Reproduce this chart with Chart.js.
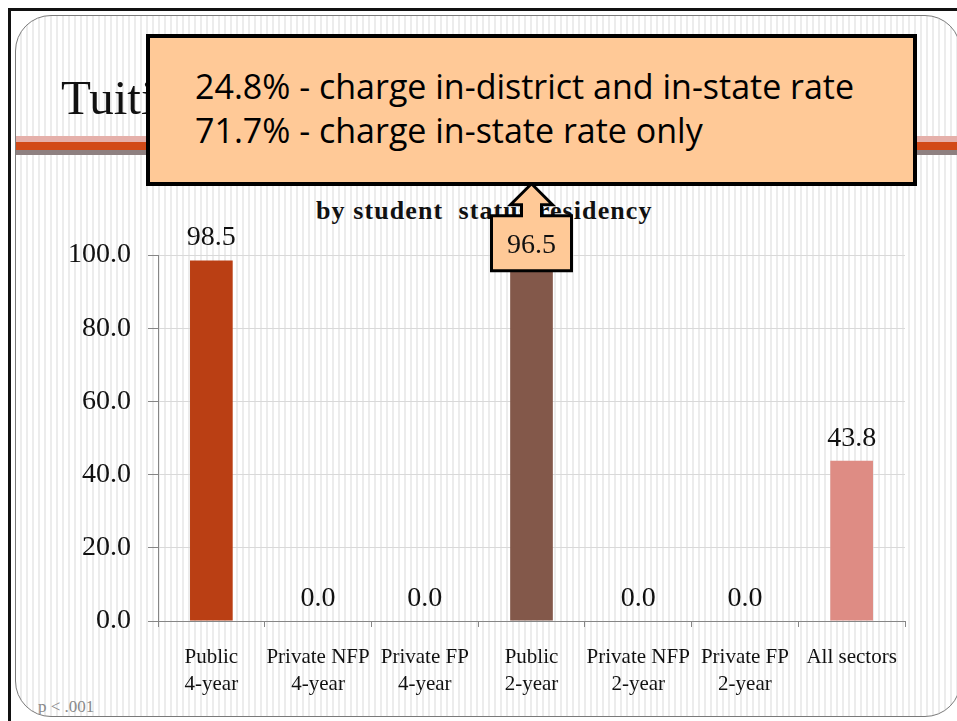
<!DOCTYPE html>
<html>
    <head>
        <title>Tuition</title>
        <meta charset="UTF-8">
        <style>
            body {
                margin: 0;
                width: 957px;
                height: 721px;
                overflow: hidden;
                background: #fff;
                position: relative;
                font-family: "Liberation Serif", serif;
            }
            #frame {
                position: absolute;
                left: 8px; top: 8px; width: 980px; height: 760px;
                border: 3px solid #111;
                box-sizing: border-box;
            }
            #slide {
                position: absolute;
                left: 15px; top: 15px; width: 946px; height: 702px;
                border: 1px solid #7a7a7a;
                border-radius: 36px;
                box-sizing: border-box;
                background: repeating-linear-gradient(90deg, #fff 0 4px, #ececec 4px 6px);
                overflow: hidden;
            }
            .band { position: absolute; left: 0; width: 100%; }
            #title {
                position: absolute; left: 45px; top: 53px;
                font-size: 49px; color: #111; white-space: nowrap;
            }
            #subtitle {
                position: absolute; left: 300px; top: 180px;
                font-size: 26px; font-weight: bold; color: #111; white-space: nowrap;
                letter-spacing: 1.1px;
            }
            #pval {
                position: absolute; left: 22px; top: 681px;
                font-size: 17px; color: #8a8a8a;
            }
            #chartBox {
                position: absolute; left: 0; top: 0; width: 957px; height: 721px;
            }
            #callout {
                position: absolute;
                left: 146px; top: 34px; width: 771px; height: 152px;
                box-sizing: border-box;
                border: 4px solid #000;
                background: #ffc997;
                font-family: "Open Sans", sans-serif;
                font-size: 34px;
                line-height: 44px;
                color: #000;
                padding: 26px 0 0 45px;
                white-space: nowrap;
            }
        </style>
    </head>
    <body>
        <div id="frame"></div>
        <div id="slide">
            <div class="band" style="top:120px;height:6px;background:#e5b0aa"></div>
            <div class="band" style="top:126px;height:8px;background:#d24a18"></div>
            <div class="band" style="top:134px;height:5px;background:#8e8080"></div>
            <div id="title">Tuition residency policy</div>
            <div id="subtitle">by student&nbsp; status residency</div>
            <div id="pval">p &lt; .001</div>
        </div>
        <div id="chartBox">
            <canvas id="myChart" width="957" height="721"></canvas>
        </div>
        <div id="callout">24.8% - charge in-district and in-state rate<br>71.7% - charge in-state rate only</div>

        <script src="https://cdn.jsdelivr.net/npm/chart.js@4.4.1/dist/chart.umd.min.js"></script>
        <script>
            var sectors = [["Public", "4-year"], ["Private NFP", "4-year"], ["Private FP", "4-year"],
                           ["Public", "2-year"], ["Private NFP", "2-year"], ["Private FP", "2-year"], ["All sectors"]];
            var percents = [98.5, 0.0, 0.0, 96.5, 0.0, 0.0, 43.8];
            var barColors = ["#ba3f14", "#ba3f14", "#ba3f14", "#83584a", "#83584a", "#83584a", "#de8c84"];
            var yTicks = [0, 20, 40, 60, 80, 100];
            var calloutIndex = 3;

            var serif = '"Liberation Serif", serif';

            // value labels over the bars, and the little arrow box on one of them
            var valueLabels = {
                id: 'valueLabels',
                afterDatasetsDraw: function (chart) {
                    var ctx = chart.ctx;
                    var meta = chart.getDatasetMeta(0);
                    ctx.save();
                    ctx.font = '28px ' + serif;
                    ctx.fillStyle = '#111';
                    ctx.textAlign = 'center';
                    ctx.textBaseline = 'alphabetic';
                    meta.data.forEach(function (bar, i) {
                        if (i === calloutIndex) {
                            return;
                        }
                        ctx.fillText(percents[i].toFixed(1), bar.x, bar.y - 15);
                    });

                    var b = meta.data[calloutIndex];
                    var x = b.x, bottom = b.y + 3, top = b.y - 52;
                    ctx.beginPath();
                    ctx.moveTo(x - 40, bottom);
                    ctx.lineTo(x + 40, bottom);
                    ctx.lineTo(x + 40, top);
                    ctx.lineTo(x + 10, top);
                    ctx.lineTo(x + 10, top - 11);
                    ctx.lineTo(x + 21, top - 11);
                    ctx.lineTo(x, top - 32);
                    ctx.lineTo(x - 21, top - 11);
                    ctx.lineTo(x - 10, top - 11);
                    ctx.lineTo(x - 10, top);
                    ctx.lineTo(x - 40, top);
                    ctx.closePath();
                    ctx.fillStyle = '#ffc997';
                    ctx.fill();
                    ctx.lineWidth = 3;
                    ctx.strokeStyle = '#000';
                    ctx.lineJoin = 'miter';
                    ctx.stroke();
                    ctx.fillStyle = '#111';
                    ctx.fillText(percents[calloutIndex].toFixed(1), x, top + 37);
                    ctx.restore();
                }
            };

            var ctx = document.getElementById("myChart");
            var myChart = new Chart(ctx, {
                type: 'bar',
                data: {
                    labels: sectors,
                    datasets: [{
                        data: percents,
                        backgroundColor: barColors,
                        barPercentage: 0.5,
                        categoryPercentage: 0.8
                    }]
                },
                options: {
                    responsive: false,
                    animation: false,
                    layout: {
                        padding: {left: 60, right: 52, top: 255, bottom: 0}
                    },
                    plugins: {
                        legend: {display: false},
                        tooltip: {enabled: false}
                    },
                    scales: {
                        x: {
                            grid: {
                                offset: true,
                                drawOnChartArea: false,
                                tickLength: 6,
                                tickColor: '#868686'
                            },
                            border: {color: '#868686'},
                            ticks: {
                                color: '#111',
                                font: {family: serif, size: 21, lineHeight: 1.3},
                                padding: 17,
                                maxRotation: 0,
                                autoSkip: false
                            },
                            afterFit: function (axis) {
                                axis.height = 100;
                            }
                        },
                        y: {
                            min: 0,
                            max: 100,
                            afterBuildTicks: function (axis) {
                                axis.ticks = yTicks.map(function (v) {
                                    return {value: v};
                                });
                            },
                            grid: {
                                color: '#d9d9d9',
                                tickColor: '#868686',
                                tickLength: 10
                            },
                            border: {color: '#868686'},
                            ticks: {
                                color: '#111',
                                font: {family: serif, size: 28},
                                padding: 17,
                                callback: function (v) {
                                    return v.toFixed(1);
                                }
                            },
                            afterFit: function (axis) {
                                axis.width = 98;
                            }
                        }
                    }
                },
                plugins: [valueLabels]
            });
        </script>
    </body>
</html>
